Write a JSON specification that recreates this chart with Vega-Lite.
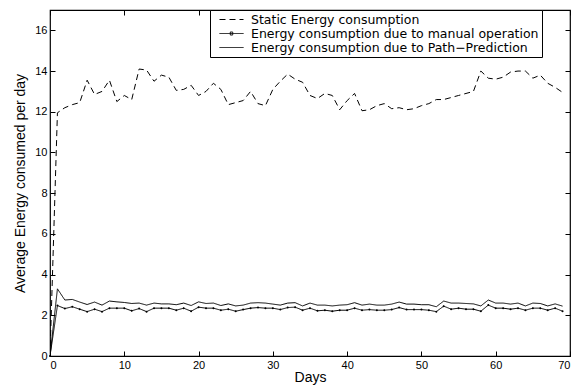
{
  "$schema": "https://vega.github.io/schema/vega-lite/v6.json",
  "width": 520,
  "height": 346,
  "autosize": "none",
  "padding": {"left": 50, "top": 10, "right": 11, "bottom": 29},
  "background": "white",
  "config": {
    "font": "Liberation Sans",
    "view": {"stroke": "black", "strokeWidth": 1.2},
    "axis": {"grid": false, "domain": false, "tickColor": "black", "labelColor": "black", "titleColor": "black", "labelFont": "Liberation Sans", "titleFont": "Liberation Sans", "labelFontSize": 11, "titleFontSize": 14, "titleFontWeight": "normal", "tickSize": -5, "labelPadding": 8}
  },
  "data": {"values": [
    {"day":0,"static":0,"manual":0,"path":0},
    {"day":1,"static":11.95,"manual":2.48,"path":3.3},
    {"day":2,"static":12.2,"manual":2.33,"path":2.75},
    {"day":3,"static":12.35,"manual":2.42,"path":2.78},
    {"day":4,"static":12.45,"manual":2.3,"path":2.65},
    {"day":5,"static":13.55,"manual":2.18,"path":2.53},
    {"day":6,"static":12.85,"manual":2.3,"path":2.65},
    {"day":7,"static":13.0,"manual":2.18,"path":2.5},
    {"day":8,"static":13.55,"manual":2.35,"path":2.7},
    {"day":9,"static":12.5,"manual":2.35,"path":2.66},
    {"day":10,"static":12.8,"manual":2.35,"path":2.63},
    {"day":11,"static":12.6,"manual":2.22,"path":2.58},
    {"day":12,"static":14.1,"manual":2.33,"path":2.6},
    {"day":13,"static":14.05,"manual":2.18,"path":2.5},
    {"day":14,"static":13.5,"manual":2.35,"path":2.6},
    {"day":15,"static":13.8,"manual":2.35,"path":2.56},
    {"day":16,"static":13.7,"manual":2.35,"path":2.56},
    {"day":17,"static":13.05,"manual":2.25,"path":2.52},
    {"day":18,"static":13.1,"manual":2.35,"path":2.6},
    {"day":19,"static":13.3,"manual":2.2,"path":2.48},
    {"day":20,"static":12.8,"manual":2.4,"path":2.66},
    {"day":21,"static":13.0,"manual":2.35,"path":2.58},
    {"day":22,"static":13.4,"manual":2.35,"path":2.6},
    {"day":23,"static":13.1,"manual":2.25,"path":2.48},
    {"day":24,"static":12.35,"manual":2.3,"path":2.56},
    {"day":25,"static":12.45,"manual":2.2,"path":2.46},
    {"day":26,"static":12.55,"manual":2.28,"path":2.5},
    {"day":27,"static":13.0,"manual":2.35,"path":2.6},
    {"day":28,"static":12.4,"manual":2.38,"path":2.62},
    {"day":29,"static":12.3,"manual":2.35,"path":2.6},
    {"day":30,"static":13.1,"manual":2.35,"path":2.55},
    {"day":31,"static":13.5,"manual":2.28,"path":2.5},
    {"day":32,"static":13.85,"manual":2.38,"path":2.6},
    {"day":33,"static":13.6,"manual":2.4,"path":2.62},
    {"day":34,"static":13.45,"manual":2.25,"path":2.46},
    {"day":35,"static":12.8,"manual":2.35,"path":2.6},
    {"day":36,"static":12.65,"manual":2.22,"path":2.5},
    {"day":37,"static":12.9,"manual":2.25,"path":2.5},
    {"day":38,"static":12.8,"manual":2.2,"path":2.46},
    {"day":39,"static":12.1,"manual":2.25,"path":2.5},
    {"day":40,"static":12.55,"manual":2.25,"path":2.52},
    {"day":41,"static":12.9,"manual":2.35,"path":2.62},
    {"day":42,"static":12.05,"manual":2.25,"path":2.5},
    {"day":43,"static":12.1,"manual":2.28,"path":2.55},
    {"day":44,"static":12.3,"manual":2.25,"path":2.5},
    {"day":45,"static":12.4,"manual":2.25,"path":2.5},
    {"day":46,"static":12.15,"manual":2.28,"path":2.55},
    {"day":47,"static":12.2,"manual":2.38,"path":2.65},
    {"day":48,"static":12.1,"manual":2.28,"path":2.55},
    {"day":49,"static":12.15,"manual":2.28,"path":2.55},
    {"day":50,"static":12.3,"manual":2.28,"path":2.52},
    {"day":51,"static":12.4,"manual":2.25,"path":2.52},
    {"day":52,"static":12.6,"manual":2.18,"path":2.42},
    {"day":53,"static":12.6,"manual":2.45,"path":2.7},
    {"day":54,"static":12.7,"manual":2.3,"path":2.6},
    {"day":55,"static":12.8,"manual":2.35,"path":2.6},
    {"day":56,"static":12.9,"manual":2.3,"path":2.58},
    {"day":57,"static":13.0,"manual":2.3,"path":2.56},
    {"day":58,"static":14.0,"manual":2.2,"path":2.46},
    {"day":59,"static":13.65,"manual":2.5,"path":2.75},
    {"day":60,"static":13.6,"manual":2.35,"path":2.6},
    {"day":61,"static":13.7,"manual":2.35,"path":2.6},
    {"day":62,"static":13.95,"manual":2.3,"path":2.55},
    {"day":63,"static":14.0,"manual":2.35,"path":2.6},
    {"day":64,"static":14.0,"manual":2.25,"path":2.46},
    {"day":65,"static":13.65,"manual":2.35,"path":2.6},
    {"day":66,"static":13.8,"manual":2.35,"path":2.58},
    {"day":67,"static":13.4,"manual":2.25,"path":2.46},
    {"day":68,"static":13.2,"manual":2.35,"path":2.56},
    {"day":69,"static":12.95,"manual":2.2,"path":2.45}
  ]},
  "transform": [{"fold": ["static", "manual", "path"], "as": ["series", "value"]}],
  "resolve": {"axis": {"x": "independent", "y": "independent"}},
  "layer": [
    {
      "mark": {"type": "line", "color": "black", "strokeWidth": 1, "clip": true},
      "encoding": {
        "x": {"field": "day", "type": "quantitative", "scale": {"domain": [0, 70], "nice": false, "zero": false},
              "axis": {"values": [0, 10, 20, 30, 40, 50, 60, 70], "title": "Days", "titlePadding": 0, "labelPadding": 8}},
        "y": {"field": "value", "type": "quantitative", "scale": {"domain": [0, 17], "nice": false},
              "axis": {"values": [0, 2, 4, 6, 8, 10, 12, 14, 16], "title": "Average Energy consumed per day", "titlePadding": 7}},
        "strokeDash": {
          "field": "series", "type": "nominal",
          "scale": {"domain": ["static", "manual", "path"], "range": [[6, 4], [1, 0], [1, 0]]},
          "legend": {
            "title": null, "orient": "none", "legendX": 160, "legendY": 0,
            "strokeColor": "black", "fillColor": "white", "padding": 3, "cornerRadius": 0,
            "symbolSize": 144, "symbolStrokeWidth": 1, "symbolStrokeColor": "black", "symbolType": "stroke",
            "labelFontSize": 12.5, "labelFont": "DejaVu Sans", "labelColor": "black", "labelOffset": 25, "rowPadding": 1, "labelLimit": 400,
            "labelExpr": "datum.value === 'static' ? 'Static Energy consumption' : datum.value === 'manual' ? 'Energy consumption due to manual operation' : 'Energy consumption due to Path\u2212Prediction'",
            "encode": {"symbols": {"update": {"shape": {"signal": "datum.value === 'manual' ? 'M0,0H4M1.8,-0.25H2.2V0.25H1.8Z' : 'M0,0H4'"}}}}
          }
        }
      }
    },
    {
      "transform": [{"filter": "datum.series === 'manual'"}],
      "mark": {"type": "point", "filled": true, "size": 4, "color": "black", "opacity": 1},
      "encoding": {
        "x": {"field": "day", "type": "quantitative", "axis": {"orient": "top", "values": [0, 10, 20, 30, 40, 50, 60, 70], "labels": false, "title": null}},
        "y": {"field": "value", "type": "quantitative", "axis": {"orient": "right", "values": [0, 2, 4, 6, 8, 10, 12, 14, 16], "labels": false, "title": null}}
      }
    }
  ]
}
